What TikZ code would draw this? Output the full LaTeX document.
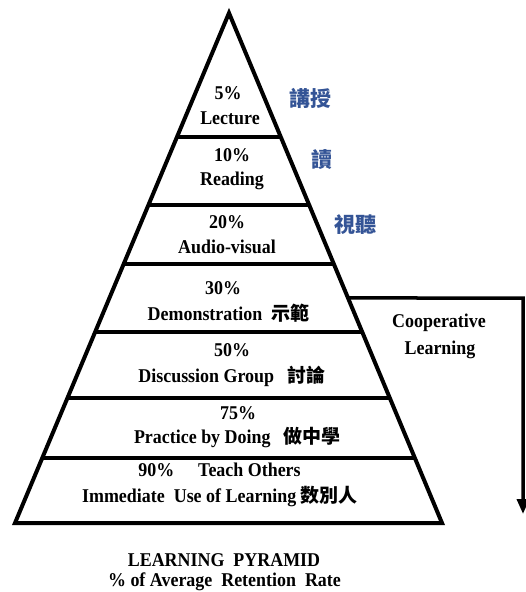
\documentclass[tikz,border=0pt]{standalone}
\usepackage{fontspec}
\setmainfont{Liberation Serif}[FakeStretch=0.92]
\newfontfamily\cjk{Noto Sans CJK TC}
\usetikzlibrary{arrows.meta,calc}
\definecolor{cnblue}{RGB}{52,84,150}
\tikzset{
  lbl/.style={inner sep=0pt, font=\bfseries\fontsize{19.5}{21}\selectfont, text=black},
  bluecn/.style={inner sep=0pt, font=\cjk\bfseries\fontsize{21}{23}\selectfont, text=cnblue},
  edge/.style={line width=4pt, line join=miter, draw=black},
  divider/.style={line width=4pt, draw=black},
  coopline/.style={line width=3.5pt, line join=miter, draw=black, -{Triangle[width=12pt,length=15pt]}}
}
\newcommand{\cn}[1]{{\cjk\bfseries\fontsize{19}{21}\selectfont #1}}
\begin{document}
\begin{tikzpicture}[x=1pt,y=-1pt]
\useasboundingbox (0,0) rectangle (526,592);
\fill[white] (0,0) rectangle (526,592);
% pyramid corners
\coordinate (apex) at (229,13);
\coordinate (bl) at (15,523);
\coordinate (br) at (442,523);
\draw[edge] (apex) -- (br) -- (bl) -- cycle;
% dividers
\foreach \t/\n in {0.2431/1,0.3765/2,0.4922/3,0.6255/4,0.7549/5,0.8725/6}{
  \coordinate (L\n) at ($(apex)!\t!(bl)$);
  \coordinate (R\n) at ($(apex)!\t!(br)$);
  \draw[divider] (L\n) -- (R\n);
}
% cooperative learning arrow
\coordinate (c0) at ($(apex)!0.5588!(br)$);
\coordinate (c1) at (523,298);
\coordinate (c2) at (523,514);
\draw[coopline] (c0) -- (c1) -- (c2);
% labels
\node[lbl] (p5) at (228,93) {5\%};
\node[lbl] (lec) at (230,118) {Lecture};
\node[lbl] (p10) at (232,155) {10\%};
\node[lbl] (read) at (232,181) {Reading};
\node[lbl] (p20) at (227,222) {20\%};
\node[lbl] (av) at (227,247) {Audio-visual};
\node[lbl] (p30) at (223,288) {30\%};
\node[lbl] (demo) at (228.5,313) {Demonstration \ \cn{示範}};
\node[lbl] (p50) at (232,350) {50\%};
\node[lbl] (disc) at (232,376) {Discussion Group \ \ \cn{討論}};
\node[lbl] (p75) at (238,413) {75\%};
\node[lbl] (prac) at (237.5,438) {Practice by Doing \ \ \cn{做中學}};
\node[lbl] (t90) at (219.5,470) {90\%\quad\ Teach Others};
\node[lbl] (imm) at (220,497) {Immediate \ Use of Learning \cn{数別人}};
\node[lbl] (title1) at (224,560) {LEARNING \ PYRAMID};
\node[lbl] (title2) at (224.5,582) {\% of Average \ Retention \ Rate};
\node[lbl] (coop1) at (439,323) {Cooperative};
\node[lbl] (coop2) at (440,350) {Learning};
\node[bluecn] (b1) at (310,98) {講授};
\node[bluecn] (b2) at (322,160) {讀};
\node[bluecn] (b3) at (355,225) {視聽};
\end{tikzpicture}
\end{document}
